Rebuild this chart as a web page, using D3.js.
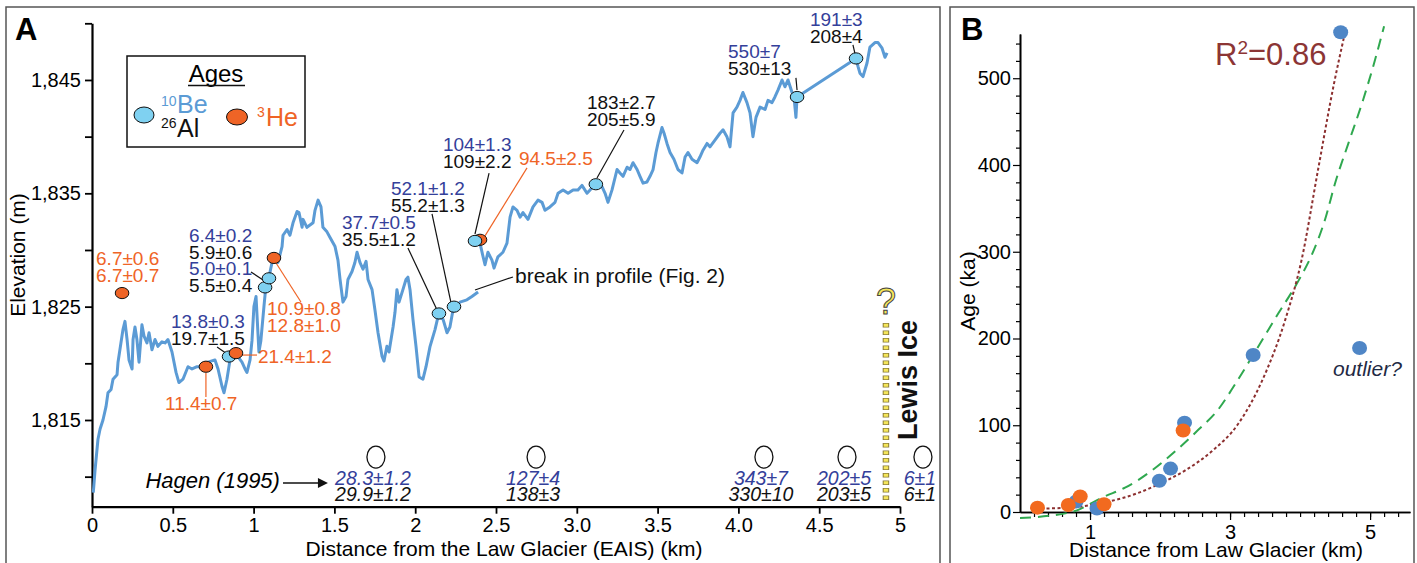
<!DOCTYPE html>
<html lang="en">
<head>
<meta charset="UTF-8">
<title>Exposure ages along the Law Glacier profile</title>
<script src="https://d3js.org/d3.v7.min.js"></script>
<style>
  body { margin: 0; background: #fff; }
  svg { display: block; font-family: "Liberation Sans", Arial, sans-serif; }
  .axis path, .axis line { stroke: #000; }
  .axis text { font-size: 20px; fill: #000; font-family: "Liberation Sans", Arial, sans-serif; }
</style>
</head>
<body>
<svg id="chart" width="1417" height="563"></svg>
<script>
// ---------- panel A data: elevation profile [km, m] ----------
const profileWest = [
  [0.008,1808.6],[0.019,1810.6],[0.037,1813.3],[0.050,1814.2],[0.068,1815.0],[0.087,1816.2],[0.099,1817.4],
  [0.118,1817.7],[0.130,1818.6],[0.155,1819.0],[0.161,1820.1],[0.179,1821.8],[0.192,1823.0],[0.204,1823.7],
  [0.217,1822.1],[0.229,1820.3],[0.248,1819.5],[0.254,1822.1],[0.266,1823.2],[0.278,1822.1],[0.291,1820.1],
  [0.309,1823.4],[0.322,1822.4],[0.340,1821.8],[0.353,1822.7],[0.371,1821.2],[0.390,1822.1],[0.408,1821.5],
  [0.433,1821.9],[0.452,1821.8],[0.470,1822.1],[0.495,1821.0],[0.520,1819.2],[0.538,1818.3],[0.563,1818.6],
  [0.594,1819.7],[0.619,1819.5],[0.650,1819.7],[0.681,1819.7],[0.718,1820.1],[0.761,1820.3],[0.780,1819.5],
  [0.804,1818.0],[0.817,1817.4],[0.835,1818.6],[0.854,1820.3],[0.873,1820.6],[0.903,1820.6],[0.928,1820.1],
  [0.947,1819.5],[0.959,1819.2],[0.978,1820.3],[0.990,1822.0],[1.002,1825.0],[1.015,1825.9],[1.033,1821.0],
  [1.045,1822.0],[1.064,1825.0],[1.076,1826.8],[1.101,1828.0],[1.114,1828.9],[1.132,1829.4],[1.151,1828.9],
  [1.176,1830.3],[1.182,1831.3],[1.207,1831.8],[1.225,1831.3],[1.244,1832.4],[1.269,1833.4],[1.281,1833.3],
  [1.300,1832.0],[1.306,1832.7],[1.330,1832.0],[1.349,1832.2],[1.368,1832.4],[1.380,1833.5],[1.399,1834.4],
  [1.417,1833.8],[1.429,1832.0],[1.454,1831.6],[1.473,1831.1],[1.504,1830.3],[1.522,1829.1],[1.535,1827.4],
  [1.553,1825.4],[1.572,1825.9],[1.584,1827.4],[1.609,1828.1],[1.627,1828.9],[1.640,1829.8],[1.658,1828.9],
  [1.677,1828.3],[1.696,1829.0],[1.708,1827.4],[1.733,1826.5],[1.751,1824.7],[1.770,1822.7],[1.795,1820.6],
  [1.807,1820.2],[1.825,1821.5],[1.838,1821.0],[1.863,1823.2],[1.875,1824.5],[1.887,1826.5],[1.900,1825.4],
  [1.924,1826.5],[1.943,1827.4],[1.955,1827.6],[1.968,1826.5],[1.986,1823.9],[2.005,1821.5],[2.024,1818.8],
  [2.048,1818.6],[2.067,1819.7],[2.092,1821.5],[2.123,1823.0],[2.141,1824.1],[2.172,1823.9],[2.197,1822.7],
  [2.215,1823.2],[2.234,1824.7],[2.277,1825.4],[2.320,1825.6],[2.351,1825.9],[2.389,1826.3]
];
const profileEast = [
  [2.370,1830.8],[2.401,1830.6],[2.420,1829.4],[2.432,1828.7],[2.450,1829.8],[2.475,1829.1],[2.488,1828.4],
  [2.512,1829.4],[2.543,1829.8],[2.568,1830.6],[2.587,1832.9],[2.605,1833.8],[2.630,1833.5],[2.649,1832.9],
  [2.667,1833.3],[2.698,1832.7],[2.729,1833.8],[2.760,1834.4],[2.785,1834.2],[2.803,1833.5],[2.834,1833.8],
  [2.865,1834.2],[2.884,1835.0],[2.915,1835.3],[2.946,1835.0],[2.977,1835.3],[3.007,1835.3],[3.032,1835.7],
  [3.063,1835.0],[3.082,1835.3],[3.106,1835.7],[3.156,1835.6],[3.175,1835.0],[3.193,1834.2],[3.218,1835.3],
  [3.249,1837.1],[3.267,1836.8],[3.286,1836.5],[3.311,1837.3],[3.329,1837.1],[3.348,1837.7],[3.373,1837.1],
  [3.391,1836.5],[3.410,1835.9],[3.434,1836.0],[3.453,1836.5],[3.472,1837.1],[3.490,1838.6],[3.502,1839.4],
  [3.527,1840.8],[3.540,1840.3],[3.558,1839.4],[3.577,1838.6],[3.601,1838.0],[3.626,1837.1],[3.651,1836.8],
  [3.670,1838.2],[3.688,1838.6],[3.713,1838.0],[3.744,1837.7],[3.762,1838.2],[3.781,1838.8],[3.806,1839.4],
  [3.824,1839.1],[3.855,1839.7],[3.886,1840.3],[3.905,1840.6],[3.929,1840.0],[3.948,1839.1],[3.967,1842.1],
  [3.991,1842.6],[4.010,1843.2],[4.028,1843.9],[4.053,1843.0],[4.072,1842.1],[4.090,1840.0],[4.109,1841.7],
  [4.134,1842.6],[4.165,1842.4],[4.183,1843.2],[4.208,1843.0],[4.226,1843.5],[4.245,1844.1],[4.270,1845.0],
  [4.288,1844.4],[4.307,1845.0],[4.332,1843.9],[4.344,1843.5],[4.356,1841.7],[4.363,1843.5],[4.728,1846.9],
  [4.740,1846.2],[4.752,1845.6],[4.771,1845.3],[4.796,1846.5],[4.814,1847.9],[4.845,1848.3],[4.864,1848.3],
  [4.889,1847.8],[4.907,1847.0],[4.920,1847.4]
];

// sample sites [km, m]
const beSites = [[0.848,1820.6],[1.071,1826.7],[1.095,1827.5],[2.147,1824.4],[2.240,1825.0],
                 [2.370,1830.8],[3.118,1835.8],[4.363,1843.5],[4.728,1846.9]];
const heSites = [[2.401,1830.9],[0.186,1826.2],[0.705,1819.7],[0.891,1820.9],[1.126,1829.3]];

// age labels: anchor [km, m] of first line, lines [text, nuclide]
const ageLabels = [
  {at:[0.025,1828.68], lines:[["6.7±0.6","he"],["6.7±0.7","he"]]},
  {at:[0.600,1830.71], lines:[["6.4±0.2","be"],["5.9±0.6","al"],["5.0±0.1","be"],["5.5±0.4","al"]]},
  {at:[1.083,1824.26], lines:[["10.9±0.8","he"],["12.8±1.0","he"]]},
  {at:[0.489,1823.12], lines:[["13.8±0.3","be"],["19.7±1.5","al"]]},
  {at:[1.027,1820.03], lines:[["21.4±1.2","he"]]},
  {at:[0.452,1815.88], lines:[["11.4±0.7","he"]]},
  {at:[1.547,1831.85], lines:[["37.7±0.5","be"],["35.5±1.2","al"]]},
  {at:[1.850,1834.85], lines:[["52.1±1.2","be"],["55.2±1.3","al"]]},
  {at:[2.172,1838.74], lines:[["104±1.3","be"],["109±2.2","al"]]},
  {at:[2.642,1837.50], lines:[["94.5±2.5","he"]]},
  {at:[3.063,1842.44], lines:[["183±2.7","al"],["205±5.9","al"]]},
  {at:[3.936,1846.94], lines:[["550±7","be"],["530±13","al"]]},
  {at:[4.443,1849.76], lines:[["191±3","be"],["208±4","al"]]}
];
// leader lines [[km, m], [km, m], nuclide]
const leaders = [
  [[0.984,1828.06],[1.077,1827.18],"al"],
  [[1.139,1828.85],[1.293,1825.41],"he"],
  [[0.774,1821.44],[0.854,1820.65],"al"],
  [[0.922,1820.73],[1.021,1820.73],"he"],
  [[0.705,1819.15],[0.705,1817.03],"he"],
  [[1.955,1830.18],[2.141,1824.53],"al"],
  [[2.104,1833.18],[2.222,1825.32],"al"],
  [[2.457,1836.79],[2.370,1831.41],"al"],
  [[2.692,1837.24],[2.432,1831.24],"he"],
  [[3.292,1840.59],[3.125,1836.35],"al"],
  [[4.356,1845.18],[4.363,1844.12],"al"],
  [[4.709,1848.09],[4.722,1847.29],"al"],
  [[2.370,1826.47],[2.605,1827.62],"al"]
];

// Hagen (1995) ages
const hagenKm = [1.757, 2.748, 4.158, 4.672, 5.142];
const hagenBe = ["28.3±1.2", "127±4", "343±7", "202±5", "6±1"];
const hagenAl = ["29.9±1.2", "138±3", "330±10", "203±5", "6±1"];

const xTicksA = [0, 0.5, 1, 1.5, 2, 2.5, 3, 3.5, 4, 4.5, 5];
const xTickLabelsA = ["0", "0.5", "1", "1.5", "2", "2.5", "3.0", "3.5", "4.0", "4.5", "5"];
const yTicksA = [1810, 1815, 1820, 1825, 1830, 1835, 1840, 1845, 1850];
const yLabelledA = [1815, 1825, 1835, 1845];

// ---------- panel B data: [km, ka] ----------
const beAgeB = [[0.80,12],[1.10,4],[1.99,36],[2.15,50],[2.35,103],[3.33,181],[4.58,553],[4.85,189]];
const heAgeB = [[0.25,5],[0.69,8],[0.86,18],[1.20,9],[2.33,94]];
const expFitB = [[0.30,4],[0.70,5],[1.21,11],[1.69,22],[1.98,32],[2.36,48],[2.74,70],[3.12,102],
                 [3.45,150],[3.79,222],[4.02,290],[4.26,396],[4.48,492],[4.64,552]];
const powFitB = [[0.00,-7],[0.74,0],[1.21,18],[1.50,28],[2.26,73],[2.55,95],[2.83,118],[3.07,147],
                 [3.33,181],[3.69,229],[3.98,267],[4.17,297],[4.36,338],[4.50,379],[4.69,425],
                 [4.90,475],[5.07,521],[5.20,560]];
const yTicksB = [0, 100, 200, 300, 400, 500];
const xTicksB = [1, 3, 5];

// ---------- styles ----------
const col = { be: "#34409a", al: "#111", he: "#ef6426" };
const lineBlue = "#5b9bd5", dotBlue = "#7fd1f1", dotOrange = "#ef6426";
const svg = d3.select("#chart");

// panel frames
svg.append("rect").attr("x", 6).attr("y", 7).attr("width", 934).attr("height", 600)
  .attr("fill", "none").attr("stroke", "#555").attr("stroke-width", 1.5);
svg.append("rect").attr("x", 950).attr("y", 7).attr("width", 464).attr("height", 600)
  .attr("fill", "none").attr("stroke", "#555").attr("stroke-width", 1.5);

// ================= PANEL A =================
const xA = d3.scaleLinear().domain([0, 5]).range([92, 900]);
const yA = d3.scaleLinear().domain([1807.35, 1850]).range([506.7, 23.3]);
const gA = svg.append("g");

gA.append("g").attr("class", "axis").attr("transform", "translate(92,0)")
  .call(d3.axisLeft(yA).tickValues(yTicksA).tickSize(7).tickSizeOuter(0).tickPadding(4)
    .tickFormat(d => yLabelledA.includes(d) ? d3.format(",")(d) : ""));
gA.append("g").attr("class", "axis").attr("transform", "translate(0,506.7)")
  .call(d3.axisBottom(xA).tickValues(xTicksA).tickSize(7).tickSizeOuter(0).tickPadding(4)
    .tickFormat((d, i) => xTickLabelsA[i]));
gA.selectAll(".axis path").attr("stroke-width", 2.2);
gA.selectAll(".axis line").attr("stroke-width", 1.8);

gA.append("text").attr("transform", "translate(25,255) rotate(-90)")
  .attr("text-anchor", "middle").attr("font-size", 21).text("Elevation (m)");
gA.append("text").attr("x", 504).attr("y", 556).attr("text-anchor", "middle")
  .attr("font-size", 21).text("Distance from the Law Glacier (EAIS) (km)");
gA.append("text").attr("x", 15).attr("y", 40).attr("font-size", 31).attr("font-weight", "bold").text("A");

// profile
const lineA = d3.line().x(d => xA(d[0])).y(d => yA(d[1]));
[profileWest, profileEast].forEach(p => {
  gA.append("path").datum(p).attr("d", lineA).attr("fill", "none")
    .attr("stroke", lineBlue).attr("stroke-width", 3).attr("stroke-linejoin", "round");
});

// leaders
gA.selectAll(".leader").data(leaders).enter().append("line")
  .attr("x1", d => xA(d[0][0])).attr("y1", d => yA(d[0][1]))
  .attr("x2", d => xA(d[1][0])).attr("y2", d => yA(d[1][1]))
  .attr("stroke", d => col[d[2]]).attr("stroke-width", 1.2);

// sample dots (orange one at the break sits behind the blue one)
function dots(data, fill) {
  gA.selectAll(null).data(data).enter().append("ellipse")
    .attr("cx", d => xA(d[0])).attr("cy", d => yA(d[1]))
    .attr("rx", 6.8).attr("ry", 5.6)
    .attr("fill", fill).attr("stroke", "#111").attr("stroke-width", 1);
}
dots(heSites.filter(d => d[0] > 2), dotOrange);
dots(beSites, dotBlue);
dots(heSites.filter(d => d[0] <= 2), dotOrange);

// age labels
ageLabels.forEach(g => {
  g.lines.forEach((ln, i) => {
    gA.append("text").attr("x", xA(g.at[0])).attr("y", yA(g.at[1]) + i * 16.7)
      .attr("font-size", 19).attr("fill", col[ln[1]]).text(ln[0]);
  });
});
gA.append("text").attr("x", xA(2.605) + 2).attr("y", yA(1827.09))
  .attr("font-size", 21).attr("fill", "#111").text("break in profile (Fig. 2)");

// Hagen (1995)
const hagenY = yA(1811.73);
gA.selectAll(".hag").data(hagenKm).enter().append("ellipse")
  .attr("cx", d => xA(d)).attr("cy", hagenY).attr("rx", 9).attr("ry", 11)
  .attr("fill", "none").attr("stroke", "#111").attr("stroke-width", 1.3);
hagenKm.forEach((k, i) => {
  gA.append("text").attr("x", xA(k) - 3).attr("y", hagenY + 27.5).attr("text-anchor", "middle")
    .attr("font-size", 19.5).attr("font-style", "italic").attr("fill", col.be).text(hagenBe[i]);
  gA.append("text").attr("x", xA(k) - 3).attr("y", hagenY + 43.5).attr("text-anchor", "middle")
    .attr("font-size", 19.5).attr("font-style", "italic").attr("fill", "#111").text(hagenAl[i]);
});
gA.append("text").attr("x", xA(1.163)).attr("y", yA(1809.0)).attr("text-anchor", "end")
  .attr("font-size", 22).attr("font-style", "italic").text("Hagen (1995)");
const arrowY = yA(1809.44);
gA.append("line").attr("x1", xA(1.182)).attr("x2", xA(1.40)).attr("y1", arrowY).attr("y2", arrowY)
  .attr("stroke", "#111").attr("stroke-width", 1.3);
gA.append("path")
  .attr("d", `M${xA(1.398)},${arrowY - 5}L${xA(1.46)},${arrowY}L${xA(1.398)},${arrowY + 5}Z`)
  .attr("fill", "#111");

// Lewis Ice margin
const lewisX = xA(4.913);
gA.append("line").attr("x1", lewisX).attr("x2", lewisX).attr("y1", yA(1823.56)).attr("y2", yA(1807.68))
  .attr("stroke", "#8a7c3a").attr("stroke-width", 6.5).attr("stroke-dasharray", "4.5,3");
gA.append("line").attr("x1", lewisX).attr("x2", lewisX).attr("y1", yA(1823.56) + 0.7).attr("y2", yA(1807.68))
  .attr("stroke", "#f5e65a").attr("stroke-width", 4.5).attr("stroke-dasharray", "3.1,4.4");
gA.append("text").attr("x", lewisX).attr("y", yA(1824.35)).attr("text-anchor", "middle")
  .attr("font-size", 36).attr("fill", "#f5e65a").attr("stroke", "#444").attr("stroke-width", 1)
  .text("?");
gA.append("text").attr("transform", `translate(${xA(5.105)},${yA(1813.24)}) rotate(-90)`)
  .attr("font-size", 27).attr("font-weight", "bold").attr("fill", "#111").text("Lewis Ice");

// legend
const lg = gA.append("g");
lg.append("rect").attr("x", 127).attr("y", 56).attr("width", 178).attr("height", 91)
  .attr("fill", "#fff").attr("stroke", "#111").attr("stroke-width", 1.5);
lg.append("text").attr("x", 216).attr("y", 82).attr("text-anchor", "middle").attr("font-size", 24).text("Ages");
lg.append("line").attr("x1", 188).attr("x2", 245).attr("y1", 85.5).attr("y2", 85.5)
  .attr("stroke", "#111").attr("stroke-width", 1.4);
lg.append("ellipse").attr("cx", 144).attr("cy", 115).attr("rx", 10).attr("ry", 8)
  .attr("fill", dotBlue).attr("stroke", "#111");
lg.append("ellipse").attr("cx", 237).attr("cy", 117).attr("rx", 10.5).attr("ry", 8)
  .attr("fill", dotOrange).attr("stroke", "#111");
lg.append("text").attr("x", 161).attr("y", 106).attr("font-size", 14).attr("fill", lineBlue).text("10");
lg.append("text").attr("x", 177).attr("y", 113).attr("font-size", 25).attr("fill", lineBlue).text("Be");
lg.append("text").attr("x", 161).attr("y", 128).attr("font-size", 14).attr("fill", "#111").text("26");
lg.append("text").attr("x", 177).attr("y", 137).attr("font-size", 25).attr("fill", "#111").text("Al");
lg.append("text").attr("x", 257).attr("y", 117).attr("font-size", 14).attr("fill", dotOrange).text("3");
lg.append("text").attr("x", 266).attr("y", 126).attr("font-size", 25).attr("fill", dotOrange).text("He");

// ================= PANEL B =================
const xB = d3.scaleLinear().domain([0, 5.57]).range([1020, 1410]);
const yB = d3.scaleLinear().domain([0, 551]).range([512, 34]);
const gB = svg.append("g");

gB.append("g").attr("class", "axis").attr("transform", "translate(1020,0)")
  .call(d3.axisLeft(yB).tickValues(d3.range(20, 541, 20).filter(v => v % 100)).tickSize(4)
    .tickSizeOuter(0).tickFormat(""));
gB.append("g").attr("class", "axis").attr("transform", "translate(1020,0)")
  .call(d3.axisLeft(yB).tickValues(yTicksB).tickSize(7).tickSizeOuter(0).tickPadding(2));
gB.append("g").attr("class", "axis").attr("transform", "translate(0,512)")
  .call(d3.axisBottom(xB).tickValues(d3.range(0.2, 5.5, 0.2)).tickSize(5).tickSizeOuter(0).tickFormat(""));
gB.append("g").attr("class", "axis").attr("transform", "translate(0,512)")
  .call(d3.axisBottom(xB).tickValues(xTicksB).tickSize(8).tickSizeOuter(0).tickPadding(5)
    .tickFormat(d3.format("d")));
gB.selectAll(".axis path").attr("stroke-width", 1.6);
gB.selectAll(".axis line").attr("stroke-width", 1.2);

gB.append("text").attr("transform", "translate(975,291) rotate(-90)").attr("text-anchor", "middle")
  .attr("font-size", 21).text("Age (ka)");
gB.append("text").attr("x", 1216).attr("y", 557).attr("text-anchor", "middle")
  .attr("font-size", 21).text("Distance from Law Glacier (km)");
gB.append("text").attr("x", 961).attr("y", 40).attr("font-size", 31).attr("font-weight", "bold").text("B");

// fits
const lineB = d3.line().x(d => xB(d[0])).y(d => yB(d[1])).curve(d3.curveMonotoneX);
gB.append("path").datum(powFitB).attr("d", lineB).attr("fill", "none")
  .attr("stroke", "#2fa84f").attr("stroke-width", 2).attr("stroke-dasharray", "11,7");
gB.append("path").datum(expFitB).attr("d", lineB).attr("fill", "none")
  .attr("stroke", "#8c2f2f").attr("stroke-width", 2).attr("stroke-dasharray", "3,2.5");

// points
gB.selectAll(".be").data(beAgeB).enter().append("ellipse")
  .attr("cx", d => xB(d[0])).attr("cy", d => yB(d[1])).attr("rx", 7.5).attr("ry", 7)
  .attr("fill", "#4f86c6");
gB.selectAll(".he").data(heAgeB).enter().append("ellipse")
  .attr("cx", d => xB(d[0])).attr("cy", d => yB(d[1])).attr("rx", 7.5).attr("ry", 7)
  .attr("fill", "#f26a1f");

const r2 = gB.append("text").attr("x", xB(2.785)).attr("y", yB(515)).attr("font-size", 31).attr("fill", "#8c3535");
r2.append("tspan").text("R");
r2.append("tspan").attr("font-size", 19).attr("dy", -11).text("2");
r2.append("tspan").attr("dy", 11).text("=0.86");
gB.append("text").attr("x", xB(4.47)).attr("y", yB(156.8)).attr("font-size", 21)
  .attr("font-style", "italic").attr("fill", "#1f2a44").text("outlier?");
</script>
</body>
</html>
